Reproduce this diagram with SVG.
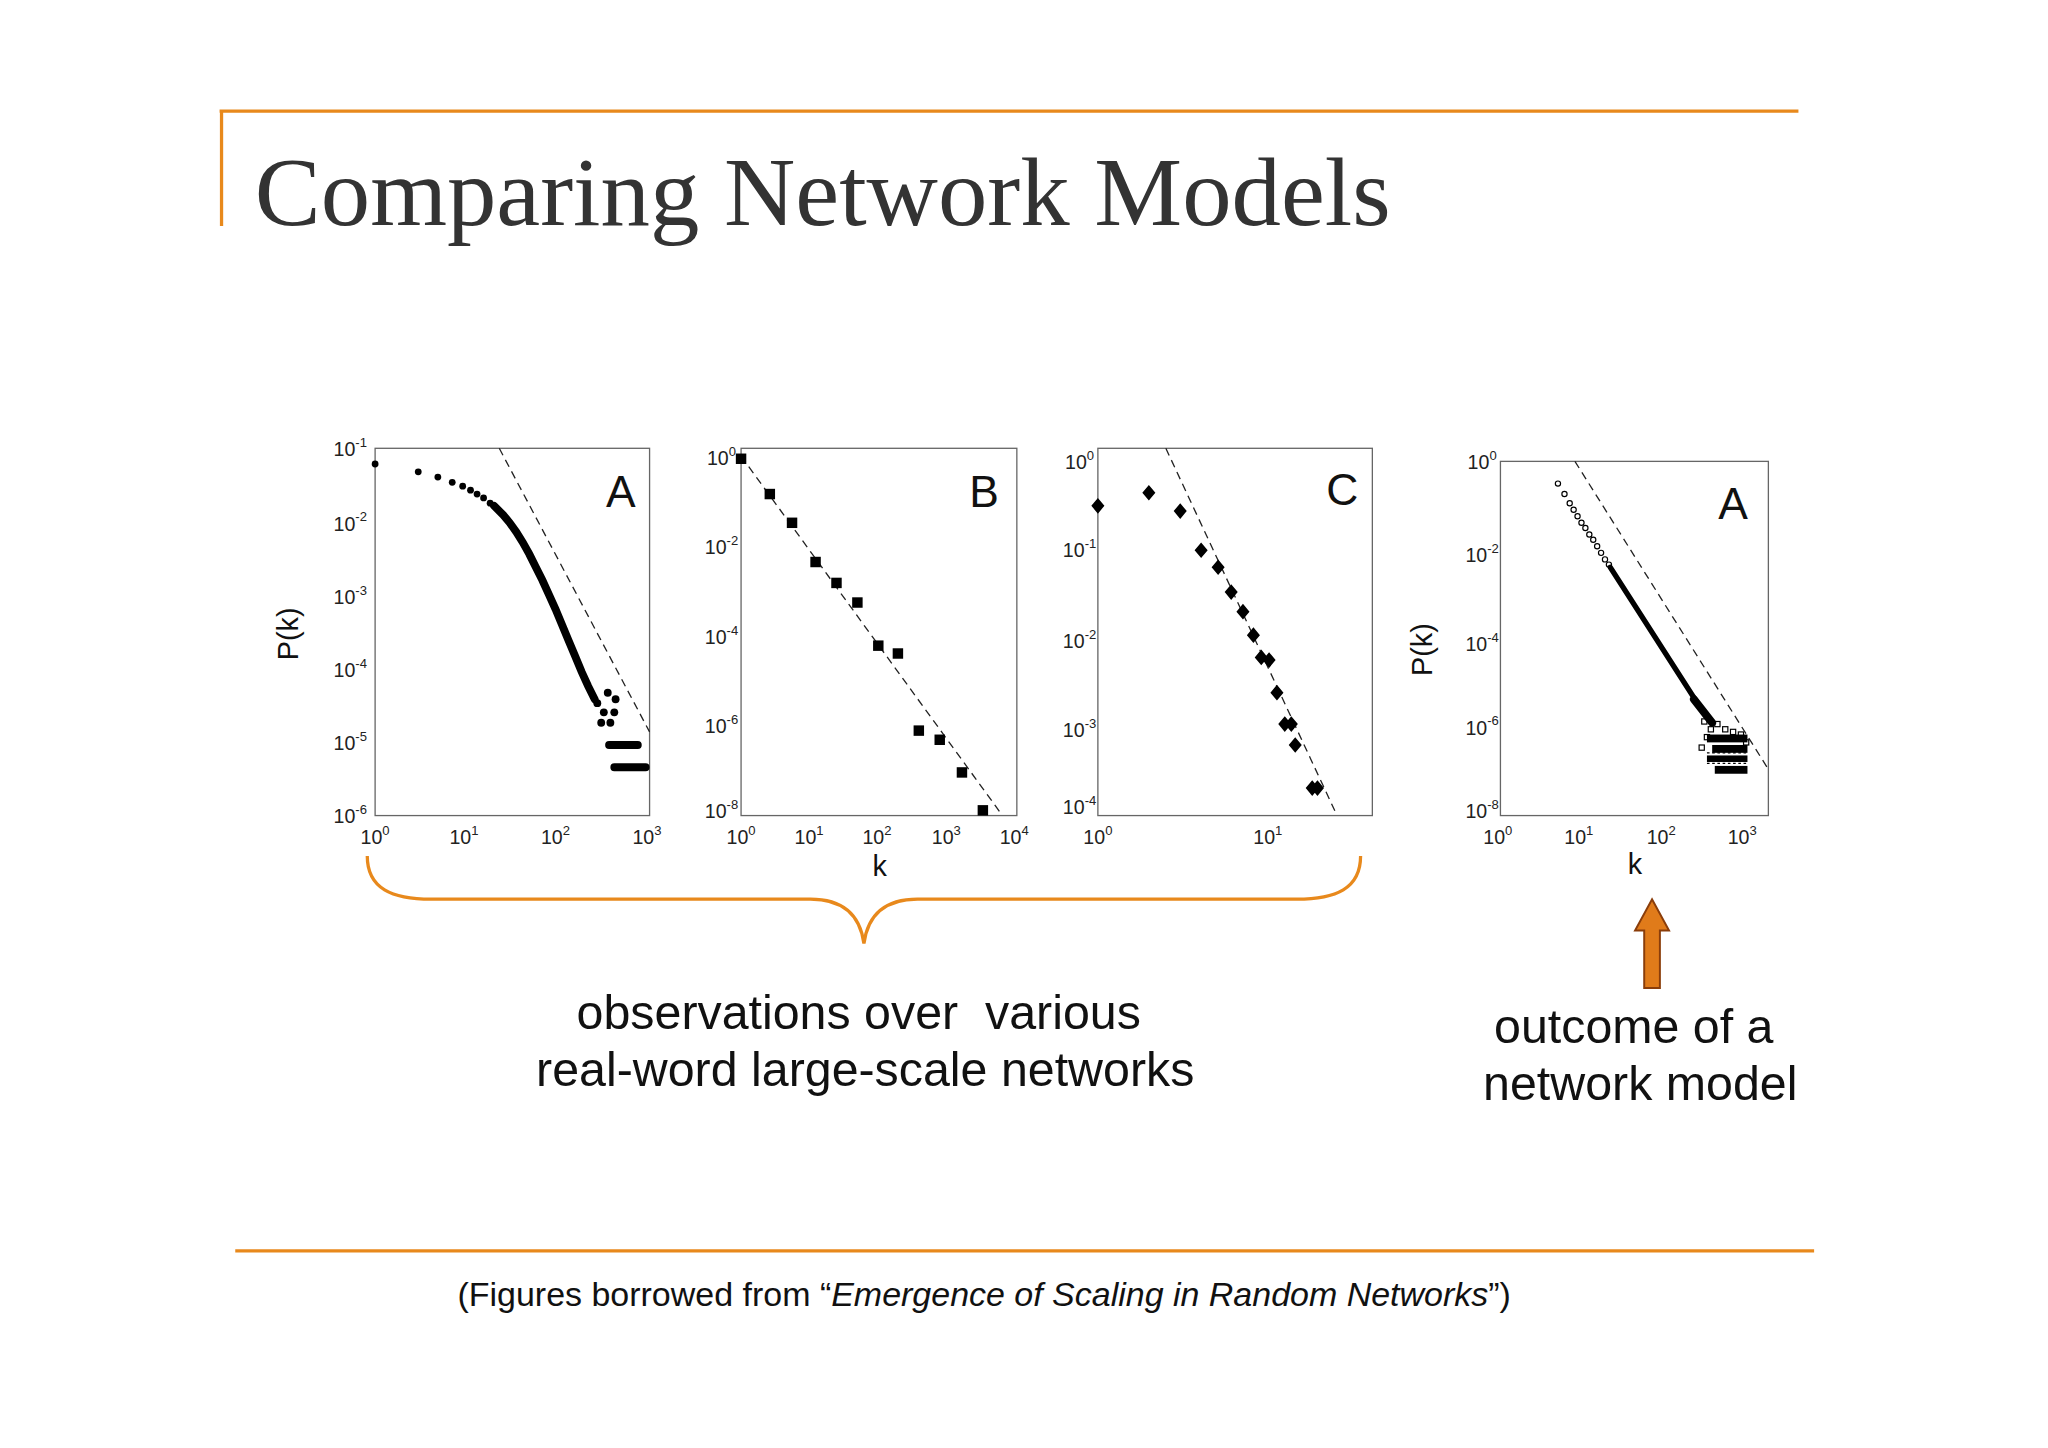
<svg xmlns="http://www.w3.org/2000/svg" width="2048" height="1448" viewBox="0 0 2048 1448">
<style>
.t{font-family:"Liberation Sans",Arial,sans-serif;fill:#111}
.tk{font-family:"Liberation Sans",Arial,sans-serif;font-size:15px;fill:#222;text-anchor:middle}
.sp{font-size:10px}
.box{fill:none;stroke:#666;stroke-width:1}
.dash{stroke:#222;stroke-width:1;stroke-dasharray:6,4;fill:none}
.or{stroke:#e8891c;fill:none;stroke-width:2.5}
.os{fill:none;stroke:#000;stroke-width:0.9}
</style>
<rect width="2048" height="1448" fill="#fff"/>
<g transform="scale(1.307)">
<g id="title">
<path class="or" d="M168,85 H1376 M169.5,85 V173"/>
<text x="195" y="172" font-family="Liberation Serif,serif" font-size="74" fill="#333" textLength="869" lengthAdjust="spacingAndGlyphs">Comparing Network Models</text>
</g>
<g id="plotA">
<rect class="box" x="287" y="343" width="210" height="281"/>
<text class="t" x="475" y="388" font-size="34" text-anchor="middle">A</text>
<text class="t" font-size="22" transform="translate(228,485) rotate(-90)" text-anchor="middle">P(k)</text>
<g class="tk" text-anchor="end">
<text x="268" y="349">10<tspan class="sp" dy="-7">-1</tspan></text>
<text x="268" y="406">10<tspan class="sp" dy="-7">-2</tspan></text>
<text x="268" y="462">10<tspan class="sp" dy="-7">-3</tspan></text>
<text x="268" y="518">10<tspan class="sp" dy="-7">-4</tspan></text>
<text x="268" y="574">10<tspan class="sp" dy="-7">-5</tspan></text>
<text x="268" y="630">10<tspan class="sp" dy="-7">-6</tspan></text>
<text x="287" y="646">10<tspan class="sp" dy="-7">0</tspan></text>
<text x="355" y="646">10<tspan class="sp" dy="-7">1</tspan></text>
<text x="425" y="646">10<tspan class="sp" dy="-7">2</tspan></text>
<text x="495" y="646">10<tspan class="sp" dy="-7">3</tspan></text>
</g>
<path class="dash" d="M382,343 L497,560"/>
<g fill="#000">
<circle cx="287" cy="355" r="2.6"/><circle cx="320" cy="361" r="2.6"/><circle cx="335" cy="365" r="2.6"/><circle cx="346" cy="369" r="2.6"/><circle cx="354" cy="372" r="2.6"/><circle cx="360" cy="375" r="2.6"/><circle cx="365" cy="378" r="2.6"/><circle cx="370" cy="381" r="2.6"/><circle cx="375" cy="385" r="2.6"/>
<circle cx="457" cy="538" r="3"/><circle cx="462" cy="545" r="3"/><circle cx="465" cy="530" r="3"/><circle cx="460" cy="553" r="3"/><circle cx="467" cy="553" r="3"/><circle cx="470" cy="545" r="3"/><circle cx="471" cy="535" r="3"/>
</g>
<path d="M378,387 L385,394 L390,400 L395,407 L400,415 L405,424 L410,434 L415,444 L420,455 L425,466 L430,478 L435,490 L440,502 L445,514 L450,525 L455,535" stroke="#000" stroke-width="6" fill="none" stroke-linecap="round"/>
<path d="M466,570 H488 M470,587 H494" stroke="#000" stroke-width="6" stroke-linecap="round"/>
</g>
<g id="plotB">
<rect class="box" x="567" y="343" width="211" height="281"/>
<text class="t" x="753" y="388" font-size="34" text-anchor="middle">B</text>
<g class="tk" text-anchor="end">
<text x="552" y="356">10<tspan class="sp" dy="-7">0</tspan></text>
<text x="552" y="424">10<tspan class="sp" dy="-7">-2</tspan></text>
<text x="552" y="493">10<tspan class="sp" dy="-7">-4</tspan></text>
<text x="552" y="561">10<tspan class="sp" dy="-7">-6</tspan></text>
<text x="552" y="626">10<tspan class="sp" dy="-7">-8</tspan></text>
<text x="567" y="646">10<tspan class="sp" dy="-7">0</tspan></text>
<text x="619" y="646">10<tspan class="sp" dy="-7">1</tspan></text>
<text x="671" y="646">10<tspan class="sp" dy="-7">2</tspan></text>
<text x="724" y="646">10<tspan class="sp" dy="-7">3</tspan></text>
<text x="776" y="646">10<tspan class="sp" dy="-7">4</tspan></text>
</g>
<text class="t" x="673" y="670" font-size="22" text-anchor="middle">k</text>
<path class="dash" d="M567,349 L767,624"/>
<g fill="#000">
<rect x="563" y="347" width="8" height="8"/><rect x="585" y="374" width="8" height="8"/><rect x="602" y="396" width="8" height="8"/><rect x="620" y="426" width="8" height="8"/><rect x="636" y="442" width="8" height="8"/><rect x="652" y="457" width="8" height="8"/><rect x="668" y="490" width="8" height="8"/><rect x="683" y="496" width="8" height="8"/><rect x="699" y="555" width="8" height="8"/><rect x="715" y="562" width="8" height="8"/><rect x="732" y="587" width="8" height="8"/><rect x="748" y="616" width="8" height="8"/>
</g>
</g>
<g id="plotC">
<rect class="box" x="840" y="343" width="210" height="281"/>
<text class="t" x="1027" y="386" font-size="34" text-anchor="middle">C</text>
<g class="tk" text-anchor="end">
<text x="826" y="359">10<tspan class="sp" dy="-7">0</tspan></text>
<text x="826" y="426">10<tspan class="sp" dy="-7">-1</tspan></text>
<text x="826" y="496">10<tspan class="sp" dy="-7">-2</tspan></text>
<text x="826" y="564">10<tspan class="sp" dy="-7">-3</tspan></text>
<text x="826" y="623">10<tspan class="sp" dy="-7">-4</tspan></text>
<text x="840" y="646">10<tspan class="sp" dy="-7">0</tspan></text>
<text x="970" y="646">10<tspan class="sp" dy="-7">1</tspan></text>
</g>
<path class="dash" d="M892,343 L1023,624"/>
<g fill="#000">
<path d="M840,381 l5,6 l-5,6 l-5,-6z M879,371 l5,6 l-5,6 l-5,-6z M903,385 l5,6 l-5,6 l-5,-6z M919,415 l5,6 l-5,6 l-5,-6z M932,428 l5,6 l-5,6 l-5,-6z M942,447 l5,6 l-5,6 l-5,-6z M951,462 l5,6 l-5,6 l-5,-6z M959,480 l5,6 l-5,6 l-5,-6z M965,497 l5,6 l-5,6 l-5,-6z M971,499 l5,6 l-5,6 l-5,-6z M977,524 l5,6 l-5,6 l-5,-6z M983,548 l5,6 l-5,6 l-5,-6z M988,548 l5,6 l-5,6 l-5,-6z M991,564 l5,6 l-5,6 l-5,-6z M1004,597 l5,6 l-5,6 l-5,-6z M1008,597 l5,6 l-5,6 l-5,-6z"/>
</g>
</g>
<g id="plotD">
<rect class="box" x="1148" y="353" width="205" height="271"/>
<text class="t" x="1326" y="397" font-size="34" text-anchor="middle">A</text>
<text class="t" font-size="22" transform="translate(1096,497) rotate(-90)" text-anchor="middle">P(k)</text>
<g class="tk" text-anchor="end">
<text x="1134" y="359">10<tspan class="sp" dy="-7">0</tspan></text>
<text x="1134" y="430">10<tspan class="sp" dy="-7">-2</tspan></text>
<text x="1134" y="498">10<tspan class="sp" dy="-7">-4</tspan></text>
<text x="1134" y="562">10<tspan class="sp" dy="-7">-6</tspan></text>
<text x="1134" y="626">10<tspan class="sp" dy="-7">-8</tspan></text>
<text x="1146" y="646">10<tspan class="sp" dy="-7">0</tspan></text>
<text x="1208" y="646">10<tspan class="sp" dy="-7">1</tspan></text>
<text x="1271" y="646">10<tspan class="sp" dy="-7">2</tspan></text>
<text x="1333" y="646">10<tspan class="sp" dy="-7">3</tspan></text>
</g>
<text class="t" x="1251" y="669" font-size="22" text-anchor="middle">k</text>
<path class="dash" d="M1205,353 L1352,587"/>
<g class="os">
<circle cx="1192" cy="370" r="2"/><circle cx="1197" cy="378" r="2"/><circle cx="1201" cy="385" r="2"/><circle cx="1204" cy="390" r="2"/><circle cx="1207" cy="395" r="2"/><circle cx="1210" cy="400" r="2"/><circle cx="1213" cy="404" r="2"/><circle cx="1216" cy="409" r="2"/><circle cx="1219" cy="413" r="2"/><circle cx="1222" cy="418" r="2"/><circle cx="1225" cy="423" r="2"/><circle cx="1228" cy="428" r="2"/><circle cx="1231" cy="432" r="2"/>
</g>
<path d="M1232,434 L1300,540" stroke="#000" stroke-width="4" stroke-linecap="round"/>
<path d="M1296,535 L1310,553" stroke="#000" stroke-width="6" stroke-linecap="round"/>
<g class="os">
<rect x="1302" y="550" width="4" height="4"/><rect x="1307" y="556" width="4" height="4"/><rect x="1312" y="552" width="4" height="4"/><rect x="1318" y="556" width="4" height="4"/><rect x="1324" y="558" width="4" height="4"/><rect x="1330" y="560" width="4" height="4"/><rect x="1334" y="566" width="4" height="4"/><rect x="1304" y="562" width="4" height="4"/><rect x="1300" y="570" width="4" height="4"/>
</g>
<g fill="#000">
<rect x="1306" y="562" width="31" height="6"/><rect x="1310" y="570" width="27" height="6"/><rect x="1306" y="578" width="31" height="5"/><rect x="1312" y="586" width="25" height="6"/>
</g>
<path d="M1306,576 H1338 M1306,584 H1338" stroke="#000" stroke-width="1" stroke-dasharray="2,2"/>
</g>
<g id="connectors">
<path class="or" d="M281,655 C281,680 300,688 330,688 H620 C645,688 658,700 661,722 C664,700 677,688 702,688 H992 C1022,688 1041,680 1041,655"/>
<path d="M1258,756 V712 H1251 L1264,688 L1277,712 H1270 V756 Z" fill="#e07b1a" stroke="#8a3d0a" stroke-width="1.5"/>
</g>
<g id="labels">
<text class="t" x="657" y="787" font-size="37" text-anchor="middle" xml:space="preserve">observations over  various</text>
<text class="t" x="662" y="831" font-size="37" text-anchor="middle">real-word large-scale networks</text>
<text class="t" x="1250" y="798" font-size="37" text-anchor="middle">outcome of a</text>
<text class="t" x="1255" y="842" font-size="37" text-anchor="middle">network model</text>
</g>
<g id="footer">
<path class="or" d="M180,957 H1388"/>
<text class="t" x="753" y="999" font-size="26" text-anchor="middle">(Figures borrowed from “<tspan font-style="italic">Emergence of Scaling in Random Networks</tspan>”)</text>
</g>
</g>
</svg>
